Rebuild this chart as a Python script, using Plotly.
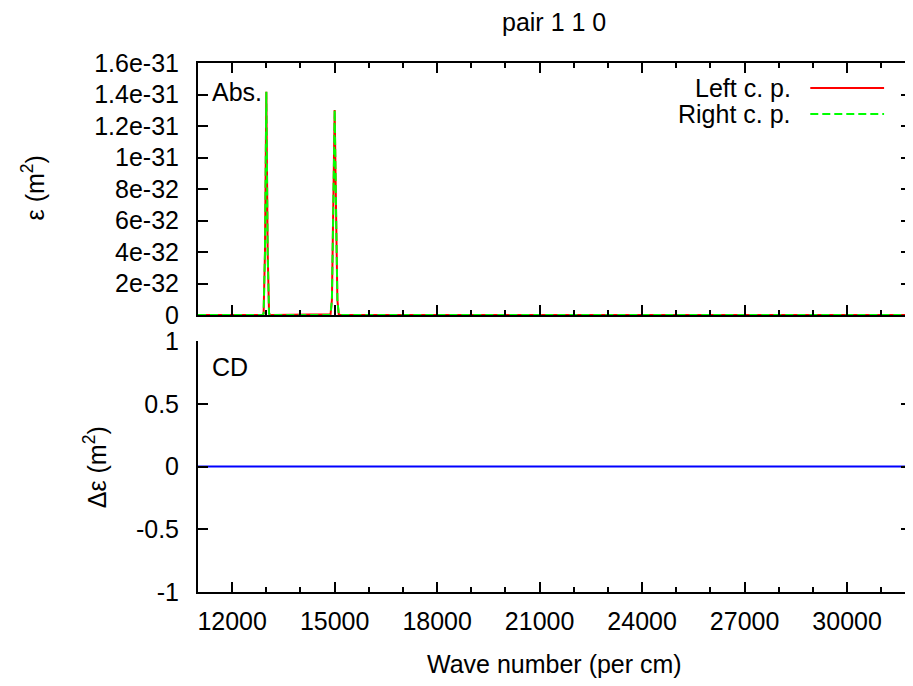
import plotly.graph_objects as go

# ---- data ----
wavenumber = [11000, 12840, 12880, 12920, 12960, 13000, 13040, 13080, 13120, 13160,
              14840, 14880, 14920, 14960, 15000, 15040, 15080, 15120, 15160, 32000]
left_cp = [0, 0, 0, 0.008e-31, 0.394e-31, 1.418e-31, 0.394e-31, 0.008e-31, 0, 0,
           0, 0.004e-31, 0.095e-31, 0.677e-31, 1.302e-31, 0.677e-31, 0.095e-31, 0.004e-31, 0, 0]
right_cp = [0, 0, 0, 0.008e-31, 0.394e-31, 1.418e-31, 0.394e-31, 0.008e-31, 0, 0,
            0, 0.005e-31, 0.097e-31, 0.680e-31, 1.302e-31, 0.680e-31, 0.097e-31, 0.005e-31, 0, 0]
cd_x = [11000, 32000]
cd_y = [0, 0]

x_ticks = [12000, 15000, 18000, 21000, 24000, 27000, 30000]
x_ticklabels = ["12000", "15000", "18000", "21000", "24000", "27000", "30000"]
abs_ticks = [0, 2e-32, 4e-32, 6e-32, 8e-32, 1e-31, 1.2e-31, 1.4e-31, 1.6e-31]
abs_ticklabels = ["0", "2e-32", "4e-32", "6e-32", "8e-32", "1e-31", "1.2e-31", "1.4e-31", "1.6e-31"]
cd_ticks = [-1, -0.5, 0, 0.5, 1]
cd_ticklabels = ["-1", "-0.5", "0", "0.5", "1"]

FONT = "Liberation Sans, Arial, Helvetica, sans-serif"
FS = 25
OFF = 8  # browser body margin
PW, PH = 913, 686  # page (window) size
W, H = PW - OFF, PH - OFF
# target page-pixel positions of the plot frame
P_LEFT, P_RIGHT, P_TOP, P_BOTTOM = 198, 913, 63, 592
L = P_LEFT - OFF
R = PW - P_RIGHT
T = P_TOP - OFF
B = H - (P_BOTTOM - OFF)

fig = go.Figure()
fig.add_trace(go.Scatter(x=wavenumber, y=left_cp, mode="lines", name="Left c. p.",
                         line=dict(color="#ff0000", width=2), xaxis="x2", yaxis="y2"))
fig.add_trace(go.Scatter(x=wavenumber, y=right_cp, mode="lines", name="Right c. p.",
                         line=dict(color="#00ff00", width=2, dash="8px,4px"), xaxis="x2", yaxis="y2"))
fig.add_trace(go.Scatter(x=cd_x, y=cd_y, mode="lines", name="CD",
                         line=dict(color="#0000ff", width=2), xaxis="x", yaxis="y"))

xr = [11000, 31870]
plot_w = P_RIGHT - P_LEFT
plot_h = P_BOTTOM - P_TOP

def fx(px):  # page px -> paper fraction
    return (px - P_LEFT) / plot_w
def fy(py):
    return (P_BOTTOM - py) / plot_h

common_x = dict(range=xr, tickvals=x_ticks, ticktext=x_ticklabels, ticks="inside", ticklen=10,
                tickwidth=1.5, tickcolor="black", showgrid=False, zeroline=False,
                showline=True, linecolor="black", linewidth=2,
                minor=dict(dtick=1000, tick0=11000, ticks="inside", ticklen=5, tickwidth=1.5, tickcolor="black"),
                tickfont=dict(family=FONT, size=FS, color="black"))

fig.update_layout(
    width=W, height=H,
    margin=dict(l=L, r=R, t=T, b=B),
    plot_bgcolor="white", paper_bgcolor="white",
    showlegend=False,
    font=dict(family=FONT, size=FS, color="black"),
    xaxis=dict(**common_x, anchor="y", mirror=False, ticklabelstandoff=6),
    xaxis2=dict(**common_x, anchor="y2", mirror="allticks", showticklabels=False, matches="x"),
    yaxis=dict(domain=[0, fy(341)], range=[-1, 1], tickvals=cd_ticks, ticktext=cd_ticklabels,
               ticks="inside", ticklen=10, tickwidth=1.5, tickcolor="black", showgrid=False, zeroline=False,
               showline=True, linecolor="black", linewidth=2, mirror="allticks", anchor="x",
               ticklabelstandoff=12, tickfont=dict(family=FONT, size=FS, color="black")),
    yaxis2=dict(domain=[fy(315), 1], range=[0, 1.6e-31], tickvals=abs_ticks, ticktext=abs_ticklabels,
                ticks="inside", ticklen=10, tickwidth=1.5, tickcolor="black", showgrid=False, zeroline=False,
                showline=True, linecolor="black", linewidth=2, mirror="allticks", anchor="x2",
                ticklabelstandoff=12, tickfont=dict(family=FONT, size=FS, color="black")),
)

ann = [
    dict(text="pair 1 1 0", x=fx(555), y=fy(22)),
    dict(text="Wave number (per cm)", x=fx(555), y=fy(664)),
    dict(text="ε (m<sup>2</sup>)", x=fx(33), y=fy(188), textangle=-90),
    dict(text="Δε (m<sup>2</sup>)", x=fx(95), y=fy(467), textangle=-90),
    dict(text="Abs.", x=fx(210), y=fy(92), xanchor="left"),
    dict(text="CD", x=fx(210), y=fy(367), xanchor="left"),
    dict(text="Left c. p.", x=fx(795), y=fy(88), xanchor="right"),
    dict(text="Right c. p.", x=fx(795), y=fy(114), xanchor="right"),
]
for a in ann:
    a.setdefault("xanchor", "center")
    fig.add_annotation(xref="paper", yref="paper", showarrow=False, yanchor="middle",
                       font=dict(family=FONT, size=FS, color="black"), **a)

# legend samples
fig.add_shape(type="line", xref="paper", yref="paper", x0=fx(812), x1=fx(886),
              y0=fy(88), y1=fy(88), line=dict(color="#ff0000", width=2))
fig.add_shape(type="line", xref="paper", yref="paper", x0=fx(812), x1=fx(886),
              y0=fy(114), y1=fy(114), line=dict(color="#00ff00", width=2, dash="8px,4px"))

fig.write_html("out.html")
